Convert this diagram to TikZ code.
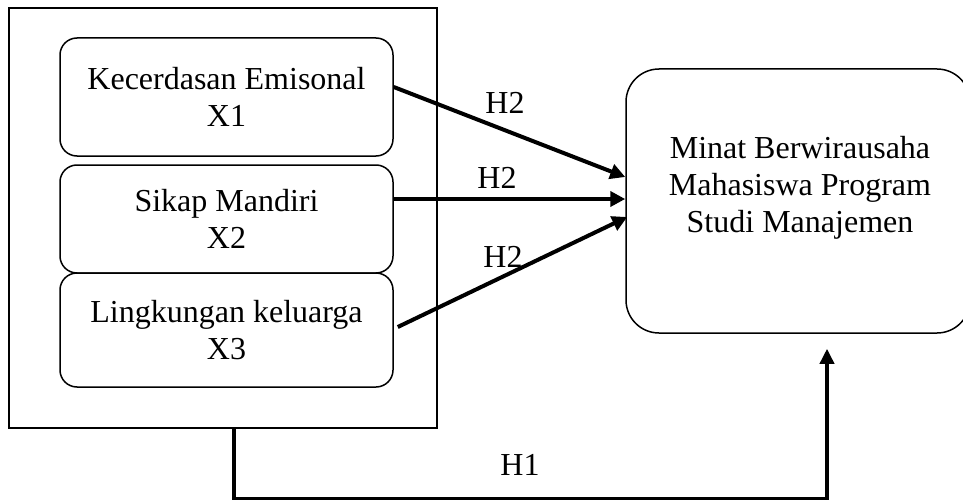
\documentclass[tikz,border=0pt]{standalone}
\usepackage{fontspec}
\setmainfont{Liberation Serif}
\usetikzlibrary{arrows.meta,calc}
\newcommand\lblfont{\fontsize{32}{37}\selectfont}
\begin{document}
\begin{tikzpicture}[x=1pt,y=-1pt,
  varbox/.style={draw, line width=1.5pt, rounded corners=17pt, minimum width=333pt,
    inner sep=0pt, align=center, font=\lblfont},
  outerbox/.style={draw, line width=2pt, minimum width=428pt, minimum height=420pt, inner sep=0pt},
  targetbox/.style={draw, line width=1.5pt, rounded corners=33pt, minimum width=344pt,
    minimum height=264pt, inner sep=0pt},
  txt/.style={font=\lblfont, align=center, inner sep=0pt},
  arr/.style={line width=4pt, -{Triangle[length=15pt,width=15pt]}},
  harr/.style={line width=3.5pt, -{Triangle[length=15pt,width=14pt]}}
]
\useasboundingbox (0,0) rectangle (963,500);
\node[outerbox] (outer) at (223,218) {};
\node[varbox, minimum height=118pt] (k1) at (226.5,97) {Kecerdasan Emisonal\\X1};
\node[varbox, minimum height=108pt] (k2) at (226.5,219) {Sikap Mandiri\\X2};
\node[varbox, minimum height=114pt] (k3) at (226.5,330) {Lingkungan keluarga\\X3};
\node[targetbox] (target) at (798,201) {};
\node[txt] (ttext) at (800,188) {Minat Berwirausaha\\Mahasiswa Program\\Studi Manajemen};

\draw[arr] ($(k1.east)+(0,-10)$) -- ($(target.west)+(0,-24)$);
\draw[arr] ($(k2.east)+(0,-20)$) -- ($(target.west)+(0,-2)$);
\draw[arr] ($(k3.east)+(4,-3)$) -- ($(target.west)+(2,16)$);

\coordinate (h1s) at ($(outer.south west)+(226,0)$);
\draw[harr] (h1s) -- ++(0,70) -| ($(target.south)+(29,15)$);

\node[txt] (l1) at (505,103) {H2};
\node[txt] (l2) at (497,178) {H2};
\node[txt] (l3) at (503,257) {H2};
\node[txt] (l4) at (520,465) {H1};
\end{tikzpicture}
\end{document}
